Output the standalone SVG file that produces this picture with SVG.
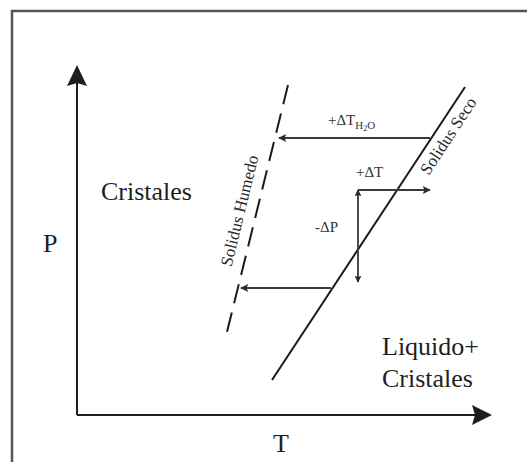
<svg xmlns="http://www.w3.org/2000/svg" width="527" height="462" viewBox="0 0 527 462">
<defs>
<style>
.ax{stroke:#1e1e1e;stroke-width:2;fill:none}
.ln{stroke:#1a1a1a;stroke-width:2;fill:none}
.ar{stroke:#3a3a3a;stroke-width:1.8;fill:none}
.big{font-family:"Liberation Serif","Times New Roman",serif;font-size:26px;fill:#1e1e1e}
.lab{font-family:"Liberation Serif","Times New Roman",serif;font-size:17px;fill:#2a2a2a}
.sm{font-family:"Liberation Serif","Times New Roman",serif;font-size:15px;fill:#333}
</style>
<marker id="ah" viewBox="0 0 10 10" refX="9" refY="5" markerWidth="9" markerHeight="8" markerUnits="userSpaceOnUse" orient="auto">
<path d="M0,0 L10,5 L0,10 L2,5 Z" fill="#2a2a2a"/>
</marker>
<marker id="ahs" viewBox="0 0 10 10" refX="9" refY="5" markerWidth="7" markerHeight="7" markerUnits="userSpaceOnUse" orient="auto-start-reverse">
<path d="M0,0 L10,5 L0,10 L2,5 Z" fill="#2a2a2a"/>
</marker>
</defs>
<rect x="0" y="0" width="527" height="462" fill="#fff"/>
<rect x="12" y="11" width="530" height="470" fill="none" stroke="#555" stroke-width="2.5"/>
<g id="axes">
<path class="ax" d="M77,415 L77,82"/>
<path class="ax" d="M77,415 L476,415"/>
<path d="M77,65 L87,86 L77,83 L67,86 Z" fill="#1e1e1e"/>
<path d="M492,415 L472,405 L475,415 L472,425 Z" fill="#1e1e1e"/>
</g>
<g id="solidus-humedo">
<path class="ln" d="M288,85 L227,332" stroke-dasharray="19.8 9.5" stroke-width="2.2"/>
<text class="lab" transform="translate(245,212) rotate(-76.2)" text-anchor="middle">Solidus Humedo</text>
</g>
<g id="solidus-seco">
<path class="ln" d="M465,87 L272,380"/>
<text class="lab" transform="translate(453,139) rotate(-56.8)" text-anchor="middle">Solidus Seco</text>
</g>
<g id="regions">
<text class="big" x="101" y="200">Cristales</text>
<text class="big" x="43" y="252">P</text>
<text class="big" x="273" y="452">T</text>
<text class="big" x="382" y="355">Liquido+</text>
<text class="big" x="382" y="387">Cristales</text>
</g>
<g id="connectors">
<path class="ar" d="M430,138 L279,138" marker-end="url(#ah)"/>
<path class="ar" d="M331,288 L241,288" marker-end="url(#ah)"/>
<path class="ar" d="M358,190 L430,190" marker-end="url(#ah)"/>
<path class="ar" d="M358,190 L358,282" marker-start="url(#ahs)" marker-end="url(#ahs)"/>
</g>
<g id="labels">
<text class="sm" x="328" y="125">+ΔT<tspan font-size="11" dy="4">H</tspan><tspan font-size="8" dy="2">2</tspan><tspan font-size="11" dy="-2">O</tspan></text>
<text class="sm" x="356" y="177">+ΔT</text>
<text class="sm" x="315" y="232">-ΔP</text>
</g>
</svg>
